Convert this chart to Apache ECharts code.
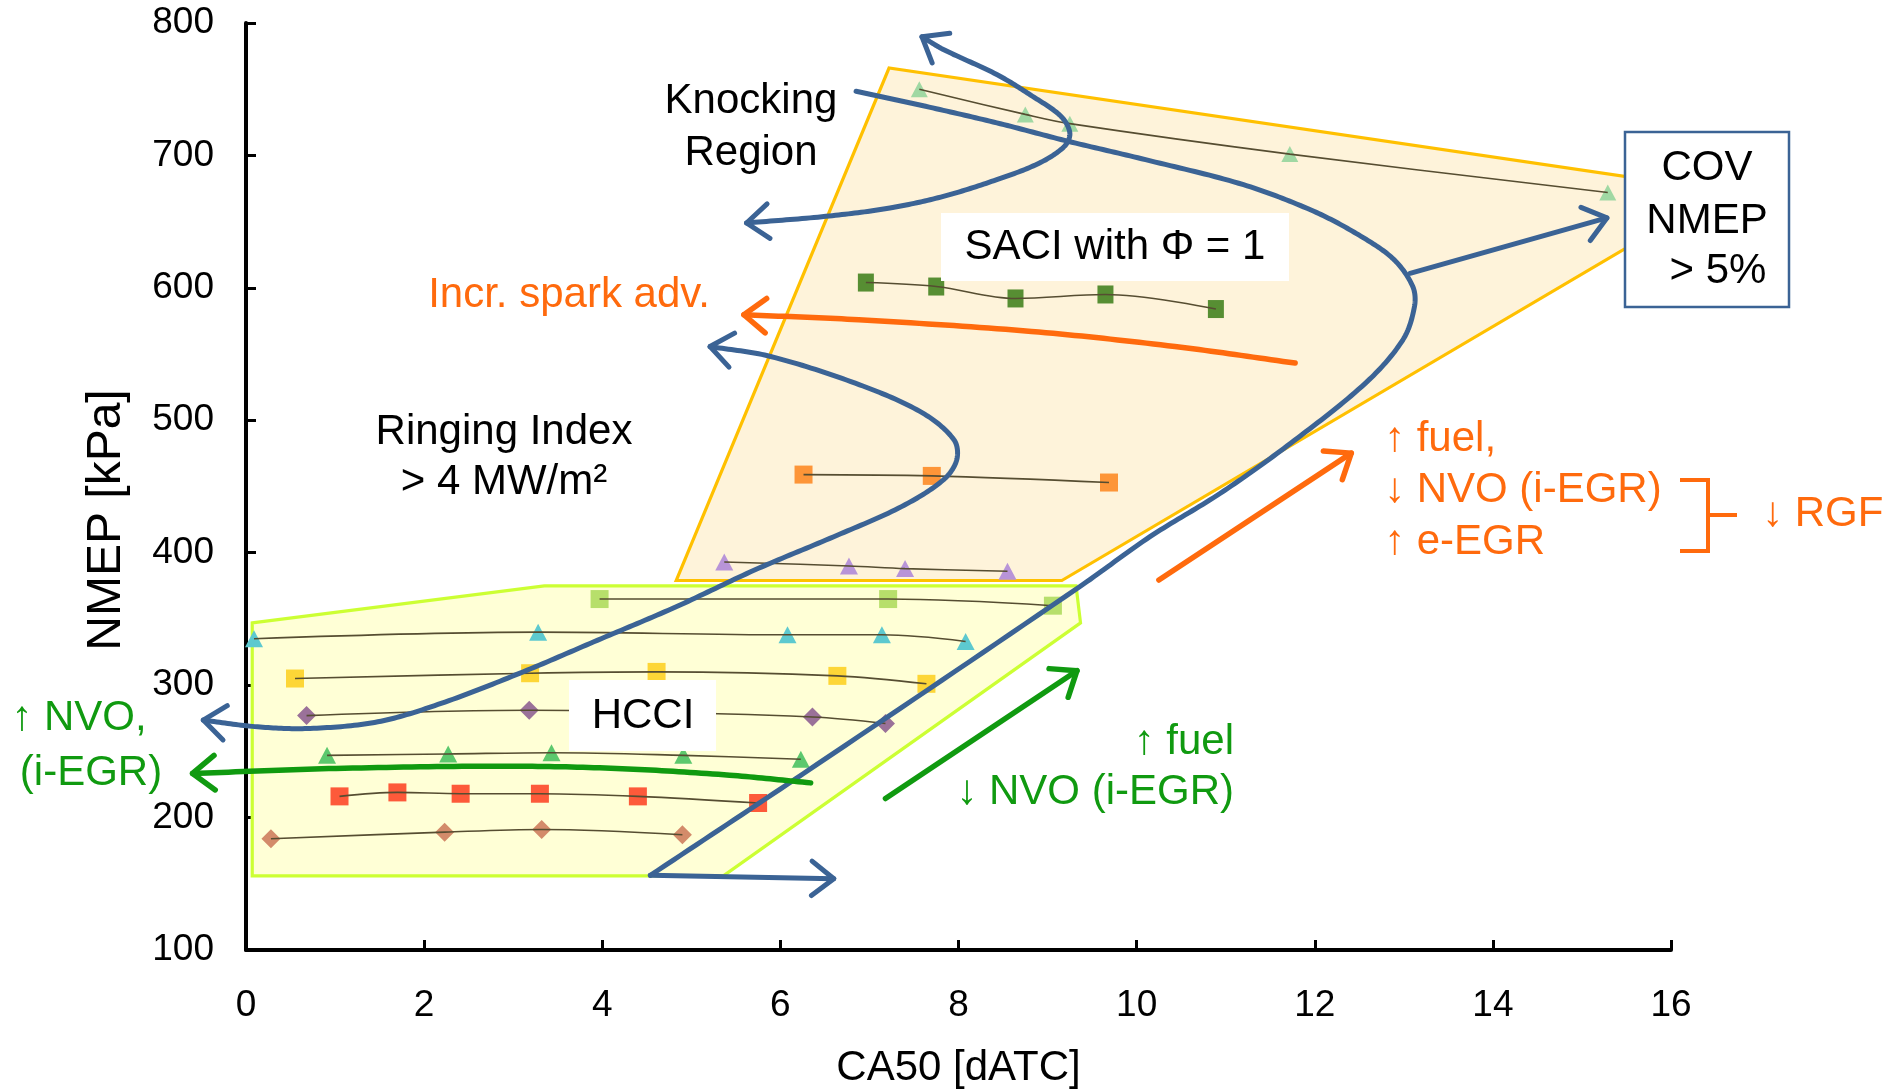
<!DOCTYPE html>
<html>
<head>
<meta charset="utf-8">
<title>NMEP vs CA50 operating map</title>
<script src="https://cdn.jsdelivr.net/npm/echarts@6/dist/echarts.min.js"></script>
<style>
  html, body { margin: 0; padding: 0; background: #fff; }
  #chart { width: 1885px; height: 1090px; }
</style>
</head>
<body>
<div id="chart"></div>
<script>
// ---- axis ticks ----
const xTicks = [0, 2, 4, 6, 8, 10, 12, 14, 16];
const yTicks = [100, 200, 300, 400, 500, 600, 700, 800];

// ---- HCCI load sweeps: [CA50, NMEP] ----
const hcciBrownDiamond = [[0.28, 184], [2.23, 189], [3.32, 191], [4.90, 187]];
const hcciRedSquare    = [[1.05, 216], [1.70, 219], [2.41, 218], [3.30, 218], [4.40, 216], [5.75, 211]];
const hcciGreenTri     = [[0.91, 247], [2.27, 248], [3.43, 249], [4.91, 247], [6.23, 244]];
const hcciPurpleDiam   = [[0.68, 277], [3.18, 281], [6.36, 276], [7.18, 271]];
const hcciYellowSquare = [[0.55, 305], [3.19, 309], [4.61, 310], [6.64, 307], [7.64, 301]];
const hcciCyanTri      = [[0.09, 335], [3.28, 340], [6.08, 338], [7.14, 338], [8.08, 333]];
const hcciLimeSquare   = [[3.97, 365], [7.21, 365], [9.06, 360]];

// ---- SACI load sweeps ----
const saciLavenderTri  = [[5.37, 393], [6.77, 390], [7.40, 388], [8.55, 386]];
const saciOrangeSquare = [[6.26, 459], [7.70, 458], [9.69, 453]];
const saciGreenSquare  = [[6.96, 604], [7.75, 601], [8.64, 592], [9.65, 595], [10.89, 584]];
const saciMintTri      = [[7.56, 750], [8.75, 731], [9.25, 724], [11.72, 701], [15.29, 672]];

// ---- regions ----
const hcciRegion = [[0.07, 347], [3.35, 375], [9.32, 375], [9.37, 347], [5.36, 156], [0.07, 156]];
const saciRegion = [[4.83, 379], [7.22, 766], [15.9, 680], [15.9, 646], [9.16, 379]];

// ---- limit curves (blue) ----
const knockLimit = [[6.85, 748.5], [7.63, 737.1], [8.43, 724.6], [9.23, 710.7], [10.1, 696.8],
  [11.20, 677.9], [11.99, 657.8], [12.52, 638.9], [12.89, 621.3], [13.10, 601.1], [13.12, 586.0],
  [12.99, 560.8], [12.57, 528.1], [11.73, 482.7], [10.94, 444.9], [10.15, 412.1], [9.36, 374.3],
  [6.26, 233.3], [4.54, 156.4]];
const lowLoadLimit = [[4.54, 156.4], [6.60, 153.8]];
const covBranch = [[13.07, 611.0], [15.28, 652.8]];
const knockRegion = [[7.59, 789.6], [7.83, 780.0], [8.43, 761.1], [8.83, 744.7], [9.15, 729.6],
  [9.25, 717.0], [9.19, 706.9], [8.91, 694.3], [8.43, 681.7], [7.83, 669.1], [7.23, 660.3],
  [6.51, 654.0], [5.62, 649.0]];
const ringingLimit = [[5.21, 555.7], [5.89, 548.2], [6.89, 526.8], [7.60, 505.4], [7.95, 485.2],
  [7.98, 470.1], [7.83, 455.0], [7.36, 434.8], [6.60, 412.1], [5.71, 386.9], [4.83, 359.2],
  [3.95, 334.0], [3.07, 308.9], [2.19, 286.2], [1.48, 272.3], [0.72, 267.3], [0.13, 268.5],
  [-0.48, 273.6]];

// ---- trend arrows ----
const nvoArrow   = [[6.34, 226.2], [5.43, 232.0], [4.16, 237.1], [2.90, 238.8], [1.01, 237.1], [-0.60, 233.3]];
const sparkArrow = [[11.78, 543.2], [10.43, 555.7], [8.82, 567.1], [6.88, 575.9], [5.59, 579.7]];
const hcciFuelArrow = [[7.18, 214.4], [9.33, 310.9]];
const saciFuelArrow = [[10.25, 379.4], [12.41, 475.2]];

const FONT = "'Liberation Sans', Arial, Helvetica, sans-serif";
const BLUE = '#3b6395';
const GREEN = '#109a10';
const ORANGE = '#ff6a0d';
const TREND = '#564d31';

function ends(curve, which) {
  // [tipX, tipY, neighbourX, neighbourY]
  if (which === 'start') return [curve[0][0], curve[0][1], curve[1][0], curve[1][1]];
  const n = curve.length;
  return [curve[n - 1][0], curve[n - 1][1], curve[n - 2][0], curve[n - 2][1]];
}

const blueHeads = [ends(knockRegion, 'start'), ends(knockRegion, 'end'),
  ends(ringingLimit, 'start'), ends(ringingLimit, 'end'),
  ends(lowLoadLimit, 'end'), ends(covBranch, 'end')];
const greenHeads = [ends(nvoArrow, 'end'), ends(hcciFuelArrow, 'end')];
const orangeHeads = [ends(sparkArrow, 'end'), ends(saciFuelArrow, 'end')];

const chart = echarts.init(document.getElementById('chart'), null, { renderer: 'canvas' });

// Chord-length Hermite spline through screen points, flattened to a polyline
function spline(px) {
  const n = px.length;
  if (n < 3) return px;
  const h = [];
  for (let i = 0; i < n - 1; i++) h.push(Math.hypot(px[i + 1][0] - px[i][0], px[i + 1][1] - px[i][1]) || 1);
  const m = px.map((p, i) => {
    if (i === 0) return [(px[1][0] - p[0]) / h[0], (px[1][1] - p[1]) / h[0]];
    if (i === n - 1) return [(p[0] - px[n - 2][0]) / h[n - 2], (p[1] - px[n - 2][1]) / h[n - 2]];
    const d = h[i - 1] + h[i];
    return [(px[i + 1][0] - px[i - 1][0]) / d, (px[i + 1][1] - px[i - 1][1]) / d];
  });
  const out = [];
  for (let i = 0; i < n - 1; i++) {
    const p1 = px[i], p2 = px[i + 1];
    const c1 = [p1[0] + m[i][0] * h[i] / 3, p1[1] + m[i][1] * h[i] / 3];
    const c2 = [p2[0] - m[i + 1][0] * h[i] / 3, p2[1] - m[i + 1][1] * h[i] / 3];
    const steps = 20;
    for (let s = 0; s < steps; s++) {
      const t = s / steps, u = 1 - t;
      const b = (a, c, d, e) => u * u * u * a + 3 * u * u * t * c + 3 * u * t * t * d + t * t * t * e;
      out.push([b(p1[0], c1[0], c2[0], p2[0]), b(p1[1], c1[1], c2[1], p2[1])]);
    }
  }
  out.push(px[n - 1]);
  return out;
}

function sweep(name, data, symbol, size, color) {
  return [
    { name, type: 'scatter', data, symbol, symbolSize: size, z: 3,
      itemStyle: { color, opacity: 1 }, silent: true },
    { name: name + ' trend', type: 'line', data, symbol: 'none', smooth: 0.35, z: 4,
      lineStyle: { color: TREND, width: 1.6 }, silent: true }
  ];
}

function curve(name, pts, color, width) {
  return { name, type: 'custom', data: [[0]], z: 6, silent: true, clip: false,
    renderItem: (params, api) => ({
      type: 'polyline',
      shape: { points: spline(pts.map(p => api.coord(p))) },
      style: { stroke: color, lineWidth: width, fill: null, lineCap: 'round', lineJoin: 'round' }
    })
  };
}

function region(name, poly, fill, stroke) {
  return { name, type: 'custom', data: [[0]], z: 1, silent: true, clip: false,
    renderItem: (params, api) => ({
      type: 'polygon',
      shape: { points: poly.map(p => api.coord(p)) },
      style: { fill, stroke, lineWidth: 3.2, lineJoin: 'miter' }
    })
  };
}

function heads(name, data, color, width) {
  return { name, type: 'custom', data, z: 7, silent: true, clip: false,
    renderItem: (params, api) => {
      const tip = api.coord([api.value(0), api.value(1)]);
      const from = api.coord([api.value(2), api.value(3)]);
      let dx = tip[0] - from[0], dy = tip[1] - from[1];
      const len = Math.hypot(dx, dy) || 1; dx /= len; dy /= len;
      const L = 28, a = 38 * Math.PI / 180;
      const arm = s => [tip[0] - L * (dx * Math.cos(s * a) - dy * Math.sin(s * a)),
                        tip[1] - L * (dx * Math.sin(s * a) + dy * Math.cos(s * a))];
      return { type: 'polyline', shape: { points: [arm(1), tip, arm(-1)] },
        style: { stroke: color, lineWidth: width, fill: null, lineCap: 'round', lineJoin: 'round' } };
    }
  };
}

function label(text, x, y, size, color, align) {
  return { type: 'text', x, y, z: 120, silent: true,
    style: { text, fontSize: size, fontFamily: FONT, fill: color || '#000',
      align: align || 'center', verticalAlign: 'middle' } };
}
function box(x, y, w, h, stroke) {
  return { type: 'rect', z: 110, silent: true, shape: { x, y, width: w, height: h },
    style: { fill: '#fff', stroke: stroke || null, lineWidth: stroke ? 2.5 : 0 } };
}

const option = {
  backgroundColor: '#fff',
  animation: false,
  grid: { left: 246, right: 214, top: 23, bottom: 140, containLabel: false, outerBoundsMode: 'none' },
  xAxis: {
    type: 'value', min: xTicks[0], max: xTicks[xTicks.length - 1], interval: 2,
    name: 'CA50 [dATC]', nameLocation: 'middle', nameGap: 97,
    nameTextStyle: { fontSize: 42, fontFamily: FONT, color: '#000' },
    axisLine: { onZero: false, lineStyle: { color: '#000', width: 4 } },
    axisTick: { inside: true, length: 10, lineStyle: { color: '#000', width: 3 } },
    axisLabel: { fontSize: 37, fontFamily: FONT, color: '#000', margin: 37 },
    splitLine: { show: false }
  },
  yAxis: {
    type: 'value', min: yTicks[0], max: yTicks[yTicks.length - 1], interval: 100,
    axisLine: { show: true, onZero: false, lineStyle: { color: '#000', width: 4 } },
    axisTick: { show: true, inside: true, length: 10, lineStyle: { color: '#000', width: 3 } },
    axisLabel: { fontSize: 37, fontFamily: FONT, color: '#000', margin: 32 },
    splitLine: { show: false }
  },
  series: [
    region('SACI region', saciRegion, '#fef3da', '#ffc000'),
    region('HCCI region', hcciRegion, '#ffffd6', '#ccff33'),
    ...sweep('HCCI 1', hcciBrownDiamond, 'diamond', [19, 19], '#d38b6a'),
    ...sweep('HCCI 2', hcciRedSquare, 'rect', [18, 18], '#fd5a3a'),
    ...sweep('HCCI 3', hcciGreenTri, 'triangle', [18, 17], '#5cc86d'),
    ...sweep('HCCI 4', hcciPurpleDiam, 'diamond', [19, 19], '#9a7199'),
    ...sweep('HCCI 5', hcciYellowSquare, 'rect', [18, 18], '#fdd637'),
    ...sweep('HCCI 6', hcciCyanTri, 'triangle', [18, 17], '#5dc9cf'),
    ...sweep('HCCI 7', hcciLimeSquare, 'rect', [18, 18], '#b7df6b'),
    ...sweep('SACI 1', saciLavenderTri, 'triangle', [18, 17], '#b894d8'),
    ...sweep('SACI 2', saciOrangeSquare, 'rect', [18, 18], '#fd9538'),
    ...sweep('SACI 3', saciGreenSquare, 'rect', [16, 18], '#578e33'),
    ...sweep('SACI 4', saciMintTri, 'triangle', [17, 16], '#a0d8a3'),
    curve('knock limit', knockLimit, BLUE, 5),
    curve('low load limit', lowLoadLimit, BLUE, 5),
    curve('COV limit', covBranch, BLUE, 5),
    curve('knocking region', knockRegion, BLUE, 5),
    curve('ringing limit', ringingLimit, BLUE, 5),
    curve('NVO trend', nvoArrow, GREEN, 5.5),
    curve('spark trend', sparkArrow, ORANGE, 5.5),
    curve('HCCI fuel trend', hcciFuelArrow, GREEN, 5.5),
    curve('SACI fuel trend', saciFuelArrow, ORANGE, 5.5),
    heads('blue heads', blueHeads, BLUE, 5),
    heads('green heads', greenHeads, GREEN, 5.5),
    heads('orange heads', orangeHeads, ORANGE, 5.5)
  ],
  graphic: [
    { type: 'text', x: 107, y: 520, rotation: Math.PI / 2, z: 120, silent: true,
      style: { text: 'NMEP [kPa]', fontSize: 48, fontFamily: FONT, fill: '#000',
        align: 'center', verticalAlign: 'middle' } },
    label('Knocking', 751, 101, 42),
    label('Region', 751, 153, 42),
    box(941, 213, 348, 68),
    label('SACI with \u03A6 = 1', 1115, 247, 42),
    label('Ringing Index', 504, 432, 42),
    label('> 4 MW/m\u00B2', 504, 482, 42),
    box(569, 680, 147, 71),
    label('HCCI', 643, 716, 42),
    label('Incr. spark adv.', 569, 295, 42, ORANGE),
    box(1625, 132, 164, 175, BLUE),
    label('COV', 1707, 168, 42),
    label('NMEP', 1707, 221, 42),
    label('> 5%', 1718, 271, 42),
    label('\u2191 fuel,', 1384, 439, 42, ORANGE, 'left'),
    label('\u2193 NVO (i-EGR)', 1384, 490, 42, ORANGE, 'left'),
    label('\u2191 e-EGR', 1384, 542, 42, ORANGE, 'left'),
    { type: 'polyline', z: 120, silent: true,
      shape: { points: [[1680, 480], [1708, 480], [1708, 551], [1680, 551]] },
      style: { stroke: ORANGE, lineWidth: 4, fill: null } },
    { type: 'line', z: 120, silent: true, shape: { x1: 1708, y1: 515, x2: 1737, y2: 515 },
      style: { stroke: ORANGE, lineWidth: 4 } },
    label('\u2193 RGF', 1762, 514, 42, ORANGE, 'left'),
    label('\u2191 fuel', 1234, 742, 42, GREEN, 'right'),
    label('\u2193 NVO (i-EGR)', 1234, 792, 42, GREEN, 'right'),
    label('\u2191 NVO,', 79, 718, 42, GREEN),
    label('(i-EGR)', 91, 773, 42, GREEN)
  ]
};

chart.setOption(option);
</script>
</body>
</html>
